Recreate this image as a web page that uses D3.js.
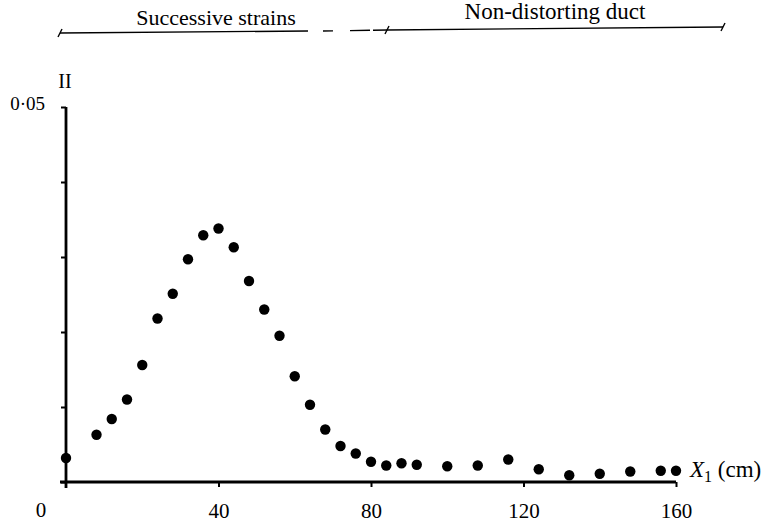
<!DOCTYPE html>
<html>
<head>
<meta charset="utf-8">
<script src="https://cdn.jsdelivr.net/npm/d3@7"></script>
<style>
  body { margin: 0; background: #fff; }
  svg text { font-family: "Liberation Serif", "DejaVu Serif", serif; fill: #000; }
</style>
</head>
<body>
<svg id="chart" width="762" height="524"></svg>
<script>
// distance along the duct, cm
var xValues = [0, 8, 12, 16, 20, 24, 28, 32, 36, 40, 44, 48, 52, 56, 60, 64, 68, 72, 76,
               80, 84, 88, 92, 100, 108, 116, 124, 132, 140, 148, 156, 160];
// invariant II
var iiValues = [0.0032, 0.0063, 0.0084, 0.0110, 0.0156, 0.0218, 0.0251, 0.0297, 0.0329, 0.0338,
                0.0313, 0.0268, 0.0230, 0.0195, 0.0141, 0.0103, 0.0070, 0.0048, 0.0038,
                0.0027, 0.0022, 0.0025, 0.0023, 0.0021, 0.0022, 0.0030, 0.0017, 0.0009,
                0.0011, 0.0014, 0.0015, 0.0015];
var xTicks = [40, 80, 120, 160];
var yTicks = [0, 0.01, 0.02, 0.03, 0.04, 0.05];

var svg = d3.select('#chart');

var x = d3.scaleLinear().domain([0, 160]).range([66, 676]);
var y = d3.scaleLinear().domain([0, 0.05]).range([482, 107]);

var data = xValues.map(function (d, i) { return {x: d, v: iiValues[i]}; });

// x axis
var xAxis = svg.append('g')
    .attr('transform', 'translate(0,482)')
    .call(d3.axisBottom(x).tickValues(xTicks).tickSize(5).tickSizeOuter(0).tickPadding(16));
xAxis.select('.domain').remove();
xAxis.selectAll('line').attr('stroke', '#000').attr('stroke-width', 2);
xAxis.selectAll('text').style('font-size', '21px');
svg.append('line')
    .attr('x1', x(0) - 6).attr('x2', x(160))
    .attr('y1', 482).attr('y2', 482)
    .attr('stroke', '#000').attr('stroke-width', 2.8);
svg.append('text')
    .attr('x', x(0) - 25).attr('y', 517)
    .attr('text-anchor', 'middle')
    .style('font-size', '21px')
    .text('0');

// y axis
var yAxis = svg.append('g')
    .attr('transform', 'translate(66,0)')
    .call(d3.axisLeft(y).tickValues(yTicks).tickSize(5).tickSizeOuter(0).tickPadding(16)
        .tickFormat(function (d) { return d === 0.05 ? '0·05' : ''; }));
yAxis.select('.domain').remove();
yAxis.selectAll('line').attr('stroke', '#000').attr('stroke-width', 2);
yAxis.selectAll('text').style('font-size', '19px').attr('dy', '0.15em');
svg.append('line')
    .attr('x1', 66).attr('x2', 66)
    .attr('y1', y(0.05)).attr('y2', 488)
    .attr('stroke', '#000').attr('stroke-width', 2.8);

// axis titles
svg.append('text')
    .attr('x', 65).attr('y', 88)
    .attr('text-anchor', 'middle')
    .style('font-size', '20px')
    .text('II');

var xt = svg.append('text')
    .attr('x', 690).attr('y', 477)
    .style('font-size', '23px');
xt.append('tspan').style('font-style', 'italic').text('X');
xt.append('tspan').attr('dy', 5).style('font-size', '16px').text('1');
xt.append('tspan').attr('dy', -5).text(' (cm)');

// points
svg.append('g').selectAll('circle')
    .data(data)
    .enter()
    .append('circle')
    .attr('cx', function (d) { return x(d.x); })
    .attr('cy', function (d) { return y(d.v); })
    .attr('r', 5.2)
    .attr('fill', '#000');

// region annotations along the top
var band = svg.append('g');
band.append('text')
    .attr('x', 216).attr('y', 25)
    .attr('text-anchor', 'middle')
    .style('font-size', '22px')
    .text('Successive strains');
band.append('text')
    .attr('x', 555).attr('y', 19)
    .attr('text-anchor', 'middle')
    .style('font-size', '23px')
    .text('Non-distorting duct');

band.append('line')
    .attr('x1', 60).attr('y1', 33).attr('x2', 308).attr('y2', 31)
    .attr('stroke', '#000').attr('stroke-width', 1.4);
band.append('line')
    .attr('x1', 323).attr('y1', 31).attr('x2', 387).attr('y2', 30)
    .attr('stroke', '#000').attr('stroke-width', 1.4)
    .attr('stroke-dasharray', '10,17,20,3,20');
band.append('line')
    .attr('x1', 387).attr('y1', 30).attr('x2', 723).attr('y2', 27)
    .attr('stroke', '#000').attr('stroke-width', 1.4);
// end marks
[[60, 33], [387, 30], [723, 27]].forEach(function (p) {
    band.append('line')
        .attr('x1', p[0] - 2).attr('y1', p[1] + 4)
        .attr('x2', p[0] + 2).attr('y2', p[1] - 4)
        .attr('stroke', '#000').attr('stroke-width', 1.4);
});
</script>
</body>
</html>
